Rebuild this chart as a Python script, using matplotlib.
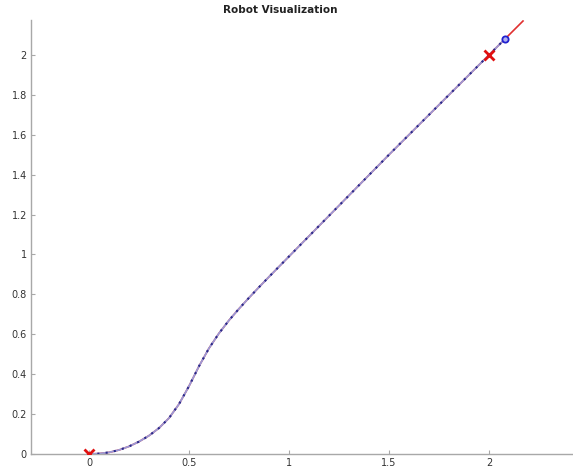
import numpy as np
import matplotlib.pyplot as plt

# path points
path_x = [0, 0.05, 0.1, 0.15, 0.2, 0.25, 0.3, 0.35, 0.4, 0.45, 0.5, 0.55, 0.6,
          0.65, 0.7, 0.75, 0.8, 0.85, 0.9, 1.0, 1.5, 2.0, 2.08]
path_y = [0, 0.002, 0.008, 0.02, 0.038, 0.062, 0.092, 0.13, 0.18, 0.25, 0.34, 0.44, 0.53,
          0.605, 0.67, 0.728, 0.783, 0.836, 0.888, 0.99, 1.5, 2.0, 2.08]

# reference line continues past the robot
ref_x = path_x + [2.17]
ref_y = path_y + [2.17]

goal_x = [0, 2.0]
goal_y = [0, 2.0]
robot_x, robot_y = 2.08, 2.08

xticks = [0, 0.5, 1, 1.5, 2]
xticklabels = ["0", "0.5", "1", "1.5", "2"]
yticks = [0, 0.2, 0.4, 0.6, 0.8, 1, 1.2, 1.4, 1.6, 1.8, 2]
yticklabels = ["0", "0.2", "0.4", "0.6", "0.8", "1", "1.2", "1.4", "1.6", "1.8", "2"]

fig = plt.figure(figsize=(5.73, 4.68), dpi=100)
ax = fig.add_axes([31 / 573, 14 / 468, 1 - 31 / 573, (454 - 20) / 468])

ax.plot(ref_x, ref_y, color="#e03030", lw=1.2, zorder=1)
ax.plot(path_x, path_y, color="#9a9ad8", lw=1.3, zorder=2)
ax.plot(path_x, path_y, color="#2a2a8a", lw=1.5, linestyle=(0, (1, 3)), zorder=3)
ax.plot(goal_x, goal_y, "x", color="#e01010", ms=7, mew=2, zorder=4)
ax.plot(robot_x, robot_y, "o", color="#2020d0", mfc="#b0b0f0", ms=4.5, mew=1.3, zorder=4)

ax.set_xlim(-0.29, 2.42)
ax.set_ylim(0, 2.175)
ax.set_xticks(xticks)
ax.set_xticklabels(xticklabels)
ax.set_yticks(yticks)
ax.set_yticklabels(yticklabels)

for s in ["top", "right"]:
    ax.spines[s].set_visible(False)
for s in ["left", "bottom"]:
    ax.spines[s].set_color("#a8a8a8")
    ax.spines[s].set_linewidth(1.0)
ax.tick_params(direction="in", length=3, width=0.8, color="#a8a8a8",
               labelsize=7, labelcolor="#333333", pad=3)

ax.set_title("Robot Visualization", fontsize=7.5, fontweight="bold",
             x=0.46, pad=5, color="#222222")

fig.savefig("out.png", dpi=100)
